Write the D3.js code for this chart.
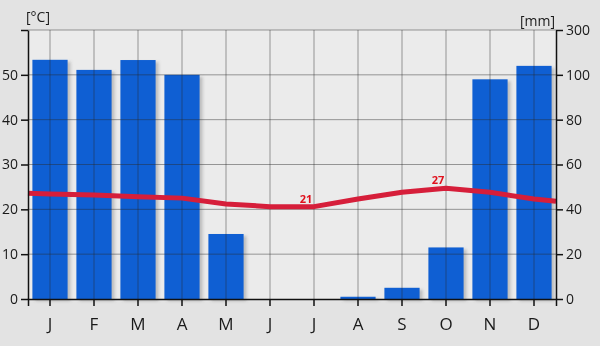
<!DOCTYPE html>
<html>
<head>
<meta charset="utf-8">
<script src="https://cdn.jsdelivr.net/npm/d3@7"></script>
<style>
  html, body { margin: 0; padding: 0; background: #e3e3e3; }
  #chart svg { display: block; font-family: "Open Sans", sans-serif; }
</style>
</head>
<body>
<div id="chart"></div>
<script>
// climate chart: precipitation bars (right axis, mm) + temperature line (left axis, °C)
const months = ["J", "F", "M", "A", "M", "J", "J", "A", "S", "O", "N", "D"];
const precip = [167, 122, 166, 100, 29, 0, 0, 1, 5, 23, 98, 140];
const temp = [23.4, 23.2, 22.8, 22.5, 21.2, 20.6, 20.6, 22.3, 23.8, 24.7, 23.8, 22.3];
const tempEdges = [23.6, 21.8]; // line continues to the plot edges
const tempTicks = [0, 10, 20, 30, 40, 50, 60];
const precipTicks = [0, 20, 40, 60, 80, 100, 300];
const tempNotes = [{ i: 6, text: "21" }, { i: 9, text: "27" }];

function renderClimate() {
  const width = 600, height = 346;
  const left = 28, right = 556, top = 30, bottom = 299;

  const svg = d3.select("#chart").append("svg")
    .attr("width", width).attr("height", height)
    .attr("viewBox", [0, 0, width, height]);

  const x = d3.scaleBand().domain(d3.range(12)).range([left, right]).paddingInner(0.2).paddingOuter(0.1);
  const cx = i => x(i) + x.bandwidth() / 2;
  const yT = d3.scaleLinear().domain([0, 60]).range([bottom, top]);
  const yP = d3.scaleLinear().domain([0, 100, 300]).range([yT(0), yT(50), yT(60)]);

  svg.append("rect").attr("x", left).attr("y", top).attr("width", right - left).attr("height", bottom - top)
    .attr("fill", "#ebebeb");

  const defs = svg.append("defs");
  defs.append("filter").attr("id", "blur").append("feGaussianBlur").attr("stdDeviation", 1.5);

  // bar shadows
  svg.append("g").attr("filter", "url(#blur)").selectAll("rect").data(precip).join("rect")
    .attr("x", (d, i) => x(i) + 3).attr("y", d => yP(d) + 2)
    .attr("width", x.bandwidth()).attr("height", d => yP(0) - yP(d))
    .attr("fill", "#888").attr("opacity", d => d > 0 ? 0.45 : 0);

  svg.append("g").selectAll("rect").data(precip).join("rect")
    .attr("x", (d, i) => x(i)).attr("y", d => yP(d))
    .attr("width", x.bandwidth()).attr("height", d => yP(0) - yP(d))
    .attr("fill", "#0f5fd3");

  // grid over bars
  const grid = svg.append("g").attr("stroke", "#2a2a2a").attr("stroke-opacity", 0.45).attr("stroke-width", 1);
  grid.selectAll("line.h").data(tempTicks.slice(1)).join("line").attr("class", "h")
    .attr("x1", left).attr("x2", right).attr("y1", d => yT(d)).attr("y2", d => yT(d));
  grid.selectAll("line.v").data(d3.range(12)).join("line").attr("class", "v")
    .attr("x1", cx).attr("x2", cx).attr("y1", top).attr("y2", bottom);

  // temperature line
  const pts = [[left, tempEdges[0]], ...temp.map((t, i) => [cx(i), t]), [right, tempEdges[1]]];
  svg.append("path").datum(pts)
    .attr("fill", "none").attr("stroke", "#d61e3a").attr("stroke-width", 5)
    .attr("stroke-linejoin", "round")
    .attr("d", d3.line().x(d => d[0]).y(d => yT(d[1])));

  svg.append("g").selectAll("text").data(tempNotes).join("text")
    .attr("x", d => cx(d.i) - 8).attr("y", d => yT(temp[d.i]) - 4)
    .attr("text-anchor", "middle").attr("fill", "#e0101c")
    .attr("font-size", "11px").attr("font-weight", "700").text(d => d.text);

  // axes
  const axisLeft = svg.append("g").attr("transform", `translate(${left},0)`)
    .call(d3.axisLeft(yT).tickValues(tempTicks).tickSize(7).tickSizeOuter(0).tickFormat(d => d === 60 ? "" : d));
  const axisRight = svg.append("g").attr("transform", `translate(${right},0)`)
    .call(d3.axisRight(yP).tickValues(precipTicks).tickSize(7).tickSizeOuter(0));
  const axisBottom = svg.append("g").attr("transform", `translate(0,${bottom})`)
    .call(d3.axisBottom(x).tickSize(7).tickSizeOuter(7).tickFormat(i => months[i]));

  [axisLeft, axisRight, axisBottom].forEach(a => {
    a.selectAll("path, line").attr("stroke", "#111").attr("stroke-width", 1.5);
    a.selectAll("text").attr("font-family", "Open Sans, sans-serif").attr("fill", "#1a1a1a");
  });
  axisLeft.selectAll("text").attr("font-size", "14px").attr("x", -10);
  axisRight.selectAll("text").attr("font-size", "14px").attr("x", 10);
  axisBottom.selectAll("text").attr("font-size", "17px").attr("y", 19);

  svg.append("text").attr("x", 26).attr("y", 22).attr("font-size", "14px").attr("fill", "#1a1a1a").text("[°C]");
  svg.append("text").attr("x", 555).attr("y", 26).attr("text-anchor", "end")
    .attr("font-size", "14px").attr("fill", "#1a1a1a").text("[mm]");
}

renderClimate();
</script>
</body>
</html>
